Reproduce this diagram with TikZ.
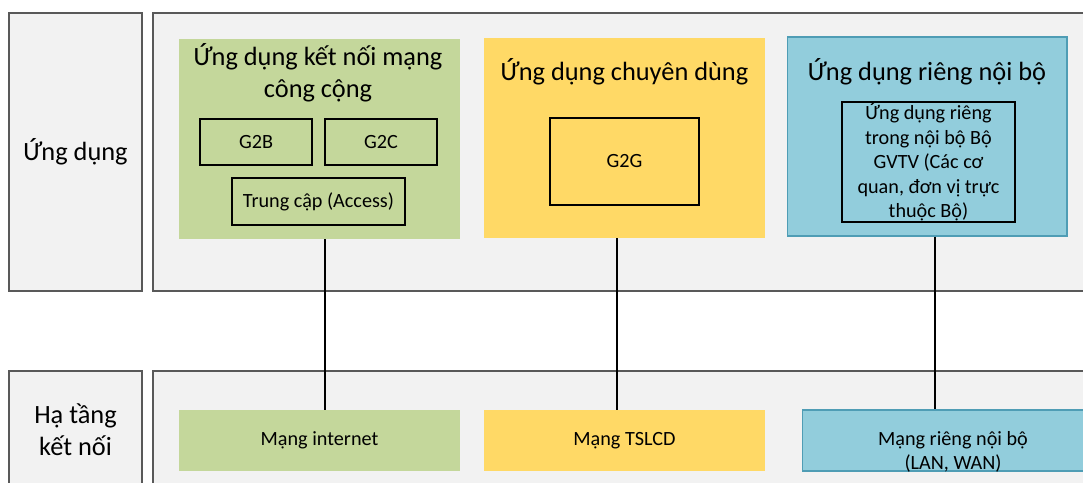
\documentclass[tikz,border=0pt]{standalone}
\usepackage{fontspec}
\setmainfont{Carlito}
\definecolor{panelgray}{HTML}{F2F2F2}
\definecolor{edgegray}{HTML}{595959}
\definecolor{appgreen}{HTML}{C4D79B}
\definecolor{appyellow}{HTML}{FFD966}
\definecolor{appblue}{HTML}{92CDDC}
\definecolor{blueedge}{HTML}{4F9DB5}
\newcommand{\bigtxt}{\fontsize{15}{18}\selectfont}
\newcommand{\smalltxt}{\fontsize{11.5}{14}\selectfont}

\begin{document}
\begin{tikzpicture}[x=0.02cm,y=-0.02cm,
	panel/.style={draw=edgegray,fill=panelgray,line width=0.6pt},
	appbox/.style={rectangle,inner sep=0pt},
	inbox/.style={rectangle,draw=black,line width=0.6pt,inner sep=0pt,font=\smalltxt},
	title/.style={align=center,font=\bigtxt,inner sep=0pt},
	netlabel/.style={align=center,font=\smalltxt,inner sep=0pt},
	link/.style={draw=black,line width=1.1pt}]
		\clip(0,0) rectangle (1083,483);
		\fill[white](0,0) rectangle (1083,483);

		\draw[panel](9,13) rectangle (142,291);
		\draw[panel](153,13) rectangle (1100,291);
		\draw[panel](9,371) rectangle (142,520);
		\draw[panel](153,371) rectangle (1100,520);

		\node[title] (layerApp) at(75.5,152){Ứng dụng};
		\node[title] (layerNet) at(75.5,430){Hạ tầng\\kết nối};

		\node[appbox,fill=appgreen,minimum width=5.62cm,minimum height=4cm] (gApp) at(319.5,139){};
			\node[title] (gTitle) at(318,72.5){Ứng dụng kết nối mạng\\công cộng};
			\node[inbox,minimum width=2.24cm,minimum height=0.92cm] (g2b) at(256,142){G2B};
			\node[inbox,minimum width=2.24cm,minimum height=0.92cm] (g2c) at(381,142){G2C};
			\node[inbox,minimum width=3.46cm,minimum height=0.94cm] (access) at(318.5,201.5){Trung cập (Access)};
		\node[appbox,fill=appyellow,minimum width=5.62cm,minimum height=4cm] (yApp) at(624.5,138){};
			\node[title] (yTitle) at(624.5,72){Ứng dụng chuyên dùng};
			\node[inbox,minimum width=2.98cm,minimum height=1.74cm] (g2g) at(624.5,161.5){G2G};
		\node[appbox,fill=appblue,draw=blueedge,line width=0.6pt,minimum width=5.6cm,minimum height=3.98cm] (bApp) at(927,136.5){};
			\node[title] (bTitle) at(927,72){Ứng dụng riêng nội bộ};
			\node[inbox,align=center,minimum width=3.46cm,minimum height=2.4cm] (inner) at(928.5,162){Ứng dụng riêng\\trong nội bộ Bộ\\GVTV (Các cơ\\quan, đơn vị trực\\thuộc Bộ)};

		\node[appbox,fill=appgreen,minimum width=5.62cm,minimum height=1.22cm,font=\smalltxt] (gNet) at(319.5,440.5){Mạng internet};
		\node[appbox,fill=appyellow,minimum width=5.62cm,minimum height=1.22cm,font=\smalltxt] (yNet) at(624.5,440.5){Mạng TSLCD};
		\node[appbox,fill=appblue,draw=blueedge,line width=0.6pt,minimum width=6.04cm,minimum height=1.22cm] (bNet) at(953,440.5){};
			\node[netlabel] (bNetText) at(953,452){Mạng riêng nội bộ\\(LAN, WAN)};

		\coordinate (gTap) at([xshift=0.11cm]gApp.south);
		\coordinate (yTap) at([xshift=-0.15cm]yApp.south);
		\coordinate (bTap) at([xshift=0.16cm]bApp.south);
		\draw[link](gTap) -- (gTap |- gNet.north);
		\draw[link](yTap) -- (yTap |- yNet.north);
		\draw[link](bTap) -- (bTap |- bNet.north);
	\end{tikzpicture}
\end{document}
